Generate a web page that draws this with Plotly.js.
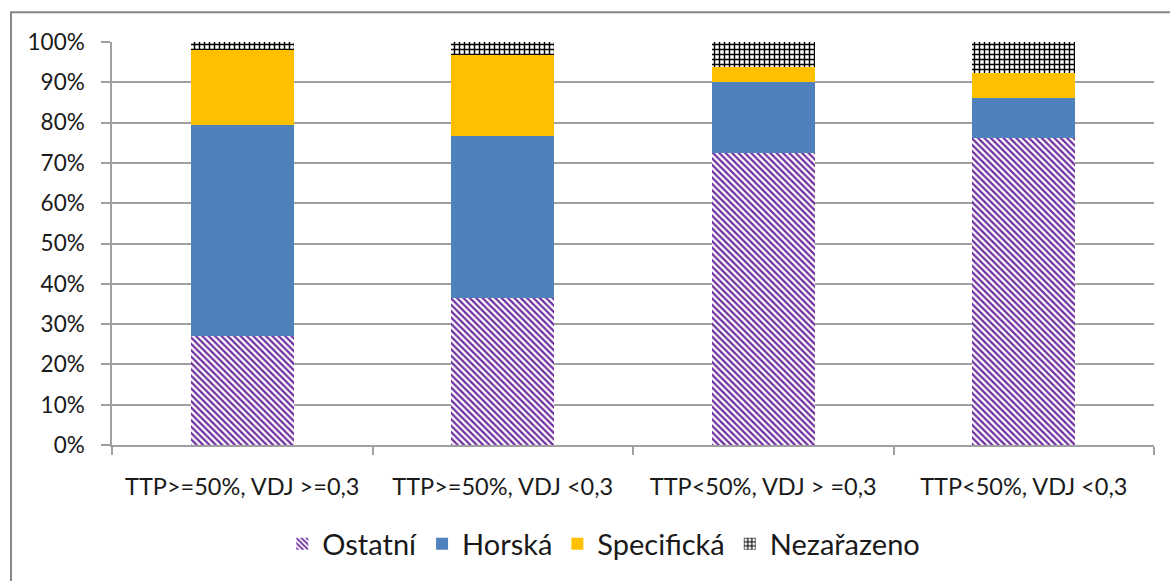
<!DOCTYPE html>
<html>
<head>
<meta charset="utf-8">
<script src="https://cdn.plot.ly/plotly-3.0.1.min.js"></script>
<style>
  html, body { margin: 0; padding: 0; background: #fff; }
  #chart { width: 1170px; height: 581px; }
</style>
</head>
<body>
<div id="chart"></div>
<script>
// categories and shares (% of area)
var categories = ["TTP>=50%, VDJ >=0,3", "TTP>=50%, VDJ <0,3", "TTP<50%, VDJ > =0,3", "TTP<50%, VDJ <0,3"];
var ostatni = [27.0, 36.6, 72.4, 76.3];
var horska = [52.4, 40.0, 17.6, 9.8];
var specificka = [18.6, 20.1, 3.9, 6.2];
var nezarazeno = [2.0, 3.3, 6.1, 7.7];
var yTicks = [0, 10, 20, 30, 40, 50, 60, 70, 80, 90, 100];

// "<" would be read as a tag by plotly, escape it for the tick text
var tickText = categories.map(function(c){ return c.replace(/</g, "&lt;"); });

var txtFont = "Lato, 'Open Sans', sans-serif";

var data = [
  {
    x: categories, y: ostatni, name: "Ostatní", type: "bar",
    marker: {color: "#ffffff", pattern: {shape: "\\", fgcolor: "#7030A0", bgcolor: "#ffffff", size: 4.5, solidity: 0.5}}
  },
  {
    x: categories, y: horska, name: "Horská", type: "bar",
    marker: {color: "#4F81BD"}
  },
  {
    x: categories, y: specificka, name: "Specifická", type: "bar",
    marker: {color: "#FFC000"}
  },
  {
    x: categories, y: nezarazeno, name: "Nezařazeno", type: "bar",
    marker: {color: "#ffffff", pattern: {shape: "+", fgcolor: "#000000", bgcolor: "#ffffff", size: 5, solidity: 0.5}}
  }
];

var layout = {
  width: 1170,
  height: 581,
  margin: {l: 112, r: 16, t: 42, b: 132},
  paper_bgcolor: "#ffffff",
  plot_bgcolor: "#ffffff",
  barmode: "stack",
  bargap: 0.605,
  font: {family: txtFont, color: "#1a1a1a"},
  showlegend: true,
  legend: {
    orientation: "h",
    x: 0.472, xanchor: "center",
    y: -0.2457, yanchor: "middle",
    font: {size: 29, family: txtFont, color: "#1a1a1a"},
    traceorder: "normal"
  },
  xaxis: {
    type: "category",
    tickvals: categories,
    ticktext: tickText,
    tickson: "boundaries",
    ticks: "outside",
    ticklen: 8,
    tickwidth: 1.5,
    tickcolor: "#a0a0a0",
    showline: true,
    linecolor: "#a0a0a0",
    linewidth: 1.5,
    showgrid: false,
    ticklabelstandoff: 20,
    tickfont: {size: 23.5, family: txtFont, color: "#1a1a1a"}
  },
  yaxis: {
    range: [0, 100],
    tickvals: yTicks,
    ticktext: yTicks.map(function(v){ return v + "%"; }),
    ticks: "outside",
    ticklen: 9,
    tickwidth: 1.5,
    tickcolor: "#a0a0a0",
    showline: true,
    linecolor: "#a0a0a0",
    linewidth: 1.5,
    showgrid: true,
    gridcolor: "#a0a0a0",
    gridwidth: 1.5,
    zeroline: false,
    ticklabelstandoff: 12,
    tickfont: {size: 22.5, family: txtFont, color: "#1a1a1a"}
  },
  shapes: [{
    // chart area border
    type: "rect", xref: "paper", yref: "paper",
    x0: -0.0969, x1: 1.1, y0: -0.6, y1: 1.0737,
    line: {color: "#878787", width: 2},
    fillcolor: "rgba(0,0,0,0)",
    layer: "below"
  }]
};

Plotly.newPlot("chart", data, layout, {displayModeBar: false, responsive: false});
</script>
</body>
</html>
